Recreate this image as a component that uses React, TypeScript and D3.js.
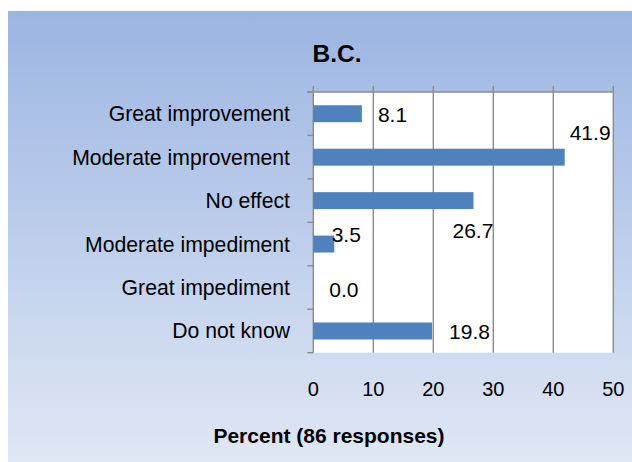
import React from "react";
import * as d3 from "d3";

const categories = [
  "Great improvement",
  "Moderate improvement",
  "No effect",
  "Moderate impediment",
  "Great impediment",
  "Do not know",
];
const values = [8.1, 41.9, 26.7, 3.5, 0.0, 19.8];
const xTicks = [0, 10, 20, 30, 40, 50];
const title = "B.C.";
const xTitle = "Percent (86 responses)";
// label placement offsets (dx from bar end, dy from band centre), as in the source
const labelDx = [16, 5, -21, -2.6, 16, 17];
const labelDy = [1, -24, 30, -9, 2, 1];

const W = 632;
const H = 462;
const FONT = "'Liberation Sans', Arial, sans-serif";

export default function App() {
  const plotLeft = 313.3;
  const plotRight = 613.3;
  const plotTop = 92;
  const plotBottom = 352.7;

  const x = d3.scaleLinear().domain([0, 50]).range([plotLeft, plotRight]);
  const y = d3
    .scaleBand<string>()
    .domain(categories)
    .range([plotTop, plotBottom])
    .paddingInner(0.61)
    .paddingOuter(0.305);
  const step = y.step();
  const boundaries = d3.range(categories.length + 1).map((i) => plotTop + i * step);
  const grid = "#8c8c8c";

  return (
    <svg
      width={W}
      height={H}
      style={{ position: "absolute", left: 0, top: 0 }}
      fontFamily={FONT}
    >
      <defs>
        <linearGradient id="bg" x1="0" y1="0" x2="0" y2="1">
          <stop offset="0%" stopColor="#9bb5e2" />
          <stop offset="100%" stopColor="#e0e7f4" />
        </linearGradient>
      </defs>
      <rect x={0} y={0} width={W} height={H} fill="#ffffff" />
      <rect x={8} y={11} width={W - 8} height={H - 11} fill="url(#bg)" />

      {/* plot area */}
      <rect
        x={plotLeft}
        y={plotTop}
        width={plotRight - plotLeft}
        height={plotBottom - plotTop}
        fill="#ffffff"
      />

      {/* vertical gridlines + top ticks */}
      {xTicks.map((t) => (
        <line
          key={"g" + t}
          x1={x(t)}
          x2={x(t)}
          y1={plotTop - 6}
          y2={plotBottom}
          stroke={grid}
          strokeWidth={1.4}
        />
      ))}
      {/* top axis line */}
      <line x1={plotLeft - 6} x2={plotRight} y1={plotTop} y2={plotTop} stroke={grid} strokeWidth={1.4} />
      {/* left axis ticks */}
      {boundaries.map((b, i) => (
        <line key={"lt" + i} x1={plotLeft - 6} x2={plotLeft} y1={b} y2={b} stroke={grid} strokeWidth={1.4} />
      ))}

      {/* bars */}
      {categories.map((c, i) => (
        <rect
          key={"b" + c}
          x={x(0)}
          y={y(c)!}
          width={Math.max(0, x(values[i]) - x(0))}
          height={y.bandwidth()}
          fill="#4f81bd"
        />
      ))}

      {/* category labels */}
      {categories.map((c) => (
        <text
          key={"c" + c}
          x={290}
          y={y(c)! + y.bandwidth() / 2 + 7.5}
          textAnchor="end"
          fontSize={21.2}
          fill="#000"
        >
          {c}
        </text>
      ))}

      {/* data labels */}
      {categories.map((c, i) => (
        <text
          key={"d" + c}
          x={x(values[i]) + labelDx[i]}
          y={y(c)! + y.bandwidth() / 2 + labelDy[i] + 7.2}
          fontSize={21}
          fill="#000"
        >
          {values[i].toFixed(1)}
        </text>
      ))}

      {/* x tick labels */}
      {xTicks.map((t) => (
        <text key={"t" + t} x={x(t)} y={396} textAnchor="middle" fontSize={20} fill="#000">
          {t}
        </text>
      ))}

      {/* title */}
      <text x={337} y={61.7} textAnchor="middle" fontSize={24.5} fontWeight="bold" fill="#000">
        {title}
      </text>

      {/* axis title */}
      <text x={329} y={443.3} textAnchor="middle" fontSize={21} fontWeight="bold" fill="#000">
        {xTitle}
      </text>
    </svg>
  );
}
